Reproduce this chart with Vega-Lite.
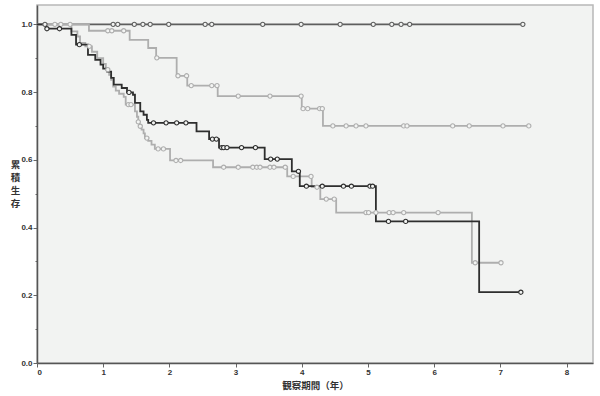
{
  "$schema": "https://vega.github.io/schema/vega-lite/v6.json",
  "autosize": {"type": "none"},
  "width": 556,
  "height": 358,
  "padding": {"left": 37, "top": 5, "right": 7, "bottom": 33},
  "background": "#ffffff",
  "config": {
    "view": {"fill": "#f2f3f2", "stroke": "#b8b8b8", "strokeWidth": 1.5},
    "axis": {"labelFont": "Liberation Sans", "labelFontSize": 8, "labelFontWeight": "bold", "labelColor": "#333333", "domainColor": "#555555", "domainWidth": 1.5, "tickColor": "#666666", "grid": false, "titleFont": "Noto Sans CJK JP", "titleFontSize": 9.5, "titleFontWeight": "bold", "titleColor": "#333333"}
  },
  "datasets": {
    "steps": [
      {"curve": "A", "t": 0, "s": 1.0}, {"curve": "A", "t": 7.34, "s": 1.0},
      {"curve": "B", "t": 0, "s": 1.0}, {"curve": "B", "t": 0.785, "s": 0.981}, {"curve": "B", "t": 1.40, "s": 0.954}, {"curve": "B", "t": 1.68, "s": 0.930}, {"curve": "B", "t": 1.80, "s": 0.901}, {"curve": "B", "t": 2.11, "s": 0.848}, {"curve": "B", "t": 2.27, "s": 0.819}, {"curve": "B", "t": 2.73, "s": 0.788}, {"curve": "B", "t": 4.00, "s": 0.751}, {"curve": "B", "t": 4.32, "s": 0.700}, {"curve": "B", "t": 7.43, "s": 0.700},
      {"curve": "D", "t": 0, "s": 1.0}, {"curve": "D", "t": 0.52, "s": 0.979}, {"curve": "D", "t": 0.61, "s": 0.964}, {"curve": "D", "t": 0.65, "s": 0.945}, {"curve": "D", "t": 0.73, "s": 0.935}, {"curve": "D", "t": 0.83, "s": 0.919}, {"curve": "D", "t": 0.91, "s": 0.900}, {"curve": "D", "t": 1.00, "s": 0.883}, {"curve": "D", "t": 1.04, "s": 0.866}, {"curve": "D", "t": 1.09, "s": 0.851}, {"curve": "D", "t": 1.12, "s": 0.836}, {"curve": "D", "t": 1.15, "s": 0.816}, {"curve": "D", "t": 1.19, "s": 0.804}, {"curve": "D", "t": 1.24, "s": 0.795}, {"curve": "D", "t": 1.31, "s": 0.786}, {"curve": "D", "t": 1.34, "s": 0.763}, {"curve": "D", "t": 1.48, "s": 0.743}, {"curve": "D", "t": 1.51, "s": 0.727}, {"curve": "D", "t": 1.53, "s": 0.712}, {"curve": "D", "t": 1.55, "s": 0.699}, {"curve": "D", "t": 1.58, "s": 0.689}, {"curve": "D", "t": 1.61, "s": 0.678}, {"curve": "D", "t": 1.63, "s": 0.664}, {"curve": "D", "t": 1.68, "s": 0.656}, {"curve": "D", "t": 1.73, "s": 0.645}, {"curve": "D", "t": 1.78, "s": 0.632}, {"curve": "D", "t": 2.01, "s": 0.598}, {"curve": "D", "t": 2.66, "s": 0.578}, {"curve": "D", "t": 3.78, "s": 0.551}, {"curve": "D", "t": 4.15, "s": 0.519}, {"curve": "D", "t": 4.28, "s": 0.484}, {"curve": "D", "t": 4.52, "s": 0.444}, {"curve": "D", "t": 6.57, "s": 0.296}, {"curve": "D", "t": 7.01, "s": 0.296},
      {"curve": "C", "t": 0, "s": 1.0}, {"curve": "C", "t": 0.14, "s": 0.987}, {"curve": "C", "t": 0.52, "s": 0.969}, {"curve": "C", "t": 0.59, "s": 0.940}, {"curve": "C", "t": 0.77, "s": 0.910}, {"curve": "C", "t": 0.88, "s": 0.895}, {"curve": "C", "t": 0.96, "s": 0.881}, {"curve": "C", "t": 1.00, "s": 0.869}, {"curve": "C", "t": 1.06, "s": 0.860}, {"curve": "C", "t": 1.12, "s": 0.842}, {"curve": "C", "t": 1.16, "s": 0.822}, {"curve": "C", "t": 1.28, "s": 0.812}, {"curve": "C", "t": 1.36, "s": 0.799}, {"curve": "C", "t": 1.45, "s": 0.792}, {"curve": "C", "t": 1.48, "s": 0.768}, {"curve": "C", "t": 1.56, "s": 0.743}, {"curve": "C", "t": 1.61, "s": 0.733}, {"curve": "C", "t": 1.66, "s": 0.718}, {"curve": "C", "t": 1.68, "s": 0.709}, {"curve": "C", "t": 2.41, "s": 0.684}, {"curve": "C", "t": 2.60, "s": 0.661}, {"curve": "C", "t": 2.75, "s": 0.636}, {"curve": "C", "t": 3.44, "s": 0.602}, {"curve": "C", "t": 3.85, "s": 0.566}, {"curve": "C", "t": 3.97, "s": 0.522}, {"curve": "C", "t": 5.12, "s": 0.418}, {"curve": "C", "t": 6.68, "s": 0.209}, {"curve": "C", "t": 7.31, "s": 0.209}
    ],
    "censors": [
      {"curve": "A", "t": 0.12, "s": 1.0}, {"curve": "A", "t": 1.15, "s": 1.0}, {"curve": "A", "t": 1.22, "s": 1.0}, {"curve": "A", "t": 1.47, "s": 1.0}, {"curve": "A", "t": 1.60, "s": 1.0}, {"curve": "A", "t": 1.71, "s": 1.0}, {"curve": "A", "t": 1.99, "s": 1.0}, {"curve": "A", "t": 2.54, "s": 1.0}, {"curve": "A", "t": 2.64, "s": 1.0}, {"curve": "A", "t": 3.41, "s": 1.0}, {"curve": "A", "t": 3.99, "s": 1.0}, {"curve": "A", "t": 4.58, "s": 1.0}, {"curve": "A", "t": 5.08, "s": 1.0}, {"curve": "A", "t": 5.36, "s": 1.0}, {"curve": "A", "t": 5.50, "s": 1.0}, {"curve": "A", "t": 5.63, "s": 1.0}, {"curve": "A", "t": 7.34, "s": 1.0},
      {"curve": "B", "t": 0.50, "s": 1.0}, {"curve": "B", "t": 1.07, "s": 0.981}, {"curve": "B", "t": 1.13, "s": 0.981}, {"curve": "B", "t": 1.31, "s": 0.981}, {"curve": "B", "t": 1.81, "s": 0.901}, {"curve": "B", "t": 2.13, "s": 0.848}, {"curve": "B", "t": 2.26, "s": 0.848}, {"curve": "B", "t": 2.33, "s": 0.819}, {"curve": "B", "t": 2.64, "s": 0.819}, {"curve": "B", "t": 2.72, "s": 0.819}, {"curve": "B", "t": 3.04, "s": 0.788}, {"curve": "B", "t": 3.52, "s": 0.788}, {"curve": "B", "t": 3.99, "s": 0.788}, {"curve": "B", "t": 4.02, "s": 0.751}, {"curve": "B", "t": 4.09, "s": 0.751}, {"curve": "B", "t": 4.27, "s": 0.751}, {"curve": "B", "t": 4.31, "s": 0.751}, {"curve": "B", "t": 4.47, "s": 0.70}, {"curve": "B", "t": 4.67, "s": 0.70}, {"curve": "B", "t": 4.82, "s": 0.70}, {"curve": "B", "t": 4.97, "s": 0.70}, {"curve": "B", "t": 5.54, "s": 0.70}, {"curve": "B", "t": 5.59, "s": 0.70}, {"curve": "B", "t": 6.28, "s": 0.70}, {"curve": "B", "t": 6.53, "s": 0.70}, {"curve": "B", "t": 7.04, "s": 0.70}, {"curve": "B", "t": 7.43, "s": 0.70},
      {"curve": "D", "t": 0.27, "s": 1.0}, {"curve": "D", "t": 0.36, "s": 1.0}, {"curve": "D", "t": 0.79, "s": 0.935}, {"curve": "D", "t": 1.07, "s": 0.866}, {"curve": "D", "t": 1.38, "s": 0.763}, {"curve": "D", "t": 1.42, "s": 0.763}, {"curve": "D", "t": 1.53, "s": 0.712}, {"curve": "D", "t": 1.56, "s": 0.699}, {"curve": "D", "t": 1.66, "s": 0.664}, {"curve": "D", "t": 1.83, "s": 0.632}, {"curve": "D", "t": 1.91, "s": 0.632}, {"curve": "D", "t": 2.10, "s": 0.598}, {"curve": "D", "t": 2.17, "s": 0.598}, {"curve": "D", "t": 2.82, "s": 0.578}, {"curve": "D", "t": 3.04, "s": 0.578}, {"curve": "D", "t": 3.26, "s": 0.578}, {"curve": "D", "t": 3.32, "s": 0.578}, {"curve": "D", "t": 3.37, "s": 0.578}, {"curve": "D", "t": 3.52, "s": 0.578}, {"curve": "D", "t": 3.58, "s": 0.578}, {"curve": "D", "t": 3.75, "s": 0.578}, {"curve": "D", "t": 3.87, "s": 0.551}, {"curve": "D", "t": 4.14, "s": 0.551}, {"curve": "D", "t": 4.23, "s": 0.519}, {"curve": "D", "t": 4.37, "s": 0.484}, {"curve": "D", "t": 4.49, "s": 0.484}, {"curve": "D", "t": 4.97, "s": 0.444}, {"curve": "D", "t": 5.01, "s": 0.444}, {"curve": "D", "t": 5.12, "s": 0.444}, {"curve": "D", "t": 5.32, "s": 0.444}, {"curve": "D", "t": 5.38, "s": 0.444}, {"curve": "D", "t": 5.54, "s": 0.444}, {"curve": "D", "t": 6.06, "s": 0.444}, {"curve": "D", "t": 6.62, "s": 0.296}, {"curve": "D", "t": 7.01, "s": 0.296},
      {"curve": "C", "t": 0.15, "s": 0.987}, {"curve": "C", "t": 0.34, "s": 0.987}, {"curve": "C", "t": 0.64, "s": 0.940}, {"curve": "C", "t": 1.39, "s": 0.799}, {"curve": "C", "t": 1.76, "s": 0.709}, {"curve": "C", "t": 1.95, "s": 0.709}, {"curve": "C", "t": 2.11, "s": 0.709}, {"curve": "C", "t": 2.25, "s": 0.709}, {"curve": "C", "t": 2.65, "s": 0.661}, {"curve": "C", "t": 2.71, "s": 0.661}, {"curve": "C", "t": 2.79, "s": 0.636}, {"curve": "C", "t": 2.82, "s": 0.636}, {"curve": "C", "t": 2.87, "s": 0.636}, {"curve": "C", "t": 3.09, "s": 0.636}, {"curve": "C", "t": 3.30, "s": 0.636}, {"curve": "C", "t": 3.53, "s": 0.602}, {"curve": "C", "t": 3.63, "s": 0.602}, {"curve": "C", "t": 3.95, "s": 0.566}, {"curve": "C", "t": 4.07, "s": 0.522}, {"curve": "C", "t": 4.31, "s": 0.522}, {"curve": "C", "t": 4.63, "s": 0.522}, {"curve": "C", "t": 4.75, "s": 0.522}, {"curve": "C", "t": 5.03, "s": 0.522}, {"curve": "C", "t": 5.07, "s": 0.522}, {"curve": "C", "t": 5.31, "s": 0.418}, {"curve": "C", "t": 5.57, "s": 0.418}, {"curve": "C", "t": 7.31, "s": 0.209}
    ]
  },
  "encoding": {
    "x": {"field": "t", "type": "quantitative", "scale": {"domain": [0, 8.4], "nice": false, "zero": false},
      "axis": {"title": "観察期間（年）", "values": [0, 1, 2, 3, 4, 5, 6, 7, 8], "format": "d", "tickSize": 4, "labelPadding": 1, "titlePadding": 4}},
    "y": {"field": "s", "type": "quantitative", "scale": {"domain": [0, 1.057], "nice": false},
      "axis": {"title": ["累", "積", "生", "存"], "titleAngle": 0, "titleX": -22, "titleY": 154, "titleAlign": "center", "titleBaseline": "top", "titleLineHeight": 13,
        "values": [0, 0.1, 0.2, 0.3, 0.4, 0.5, 0.6, 0.7, 0.8, 0.9, 1.0],
        "labelExpr": "round(datum.value*10)%2==0 ? format(datum.value, '.1f') : ''",
        "tickSize": {"condition": {"test": "round(datum.value*10)%2==1", "value": 2}, "value": 4}, "labelPadding": 1}},
    "color": {"field": "curve", "type": "nominal", "legend": null,
      "scale": {"domain": ["B", "D", "A", "C"], "range": ["#aeaeae", "#aeaeae", "#5e5e5e", "#2e2e2e"]}}
  },
  "layer": [
    {"data": {"name": "steps"}, "mark": {"type": "line", "interpolate": "step-after", "strokeWidth": 1.8}},
    {"data": {"name": "censors"}, "mark": {"type": "point", "shape": "circle", "size": 18, "filled": false, "fill": "#f3f4f3", "fillOpacity": 1, "strokeWidth": 1.1, "opacity": 1}}
  ]
}
